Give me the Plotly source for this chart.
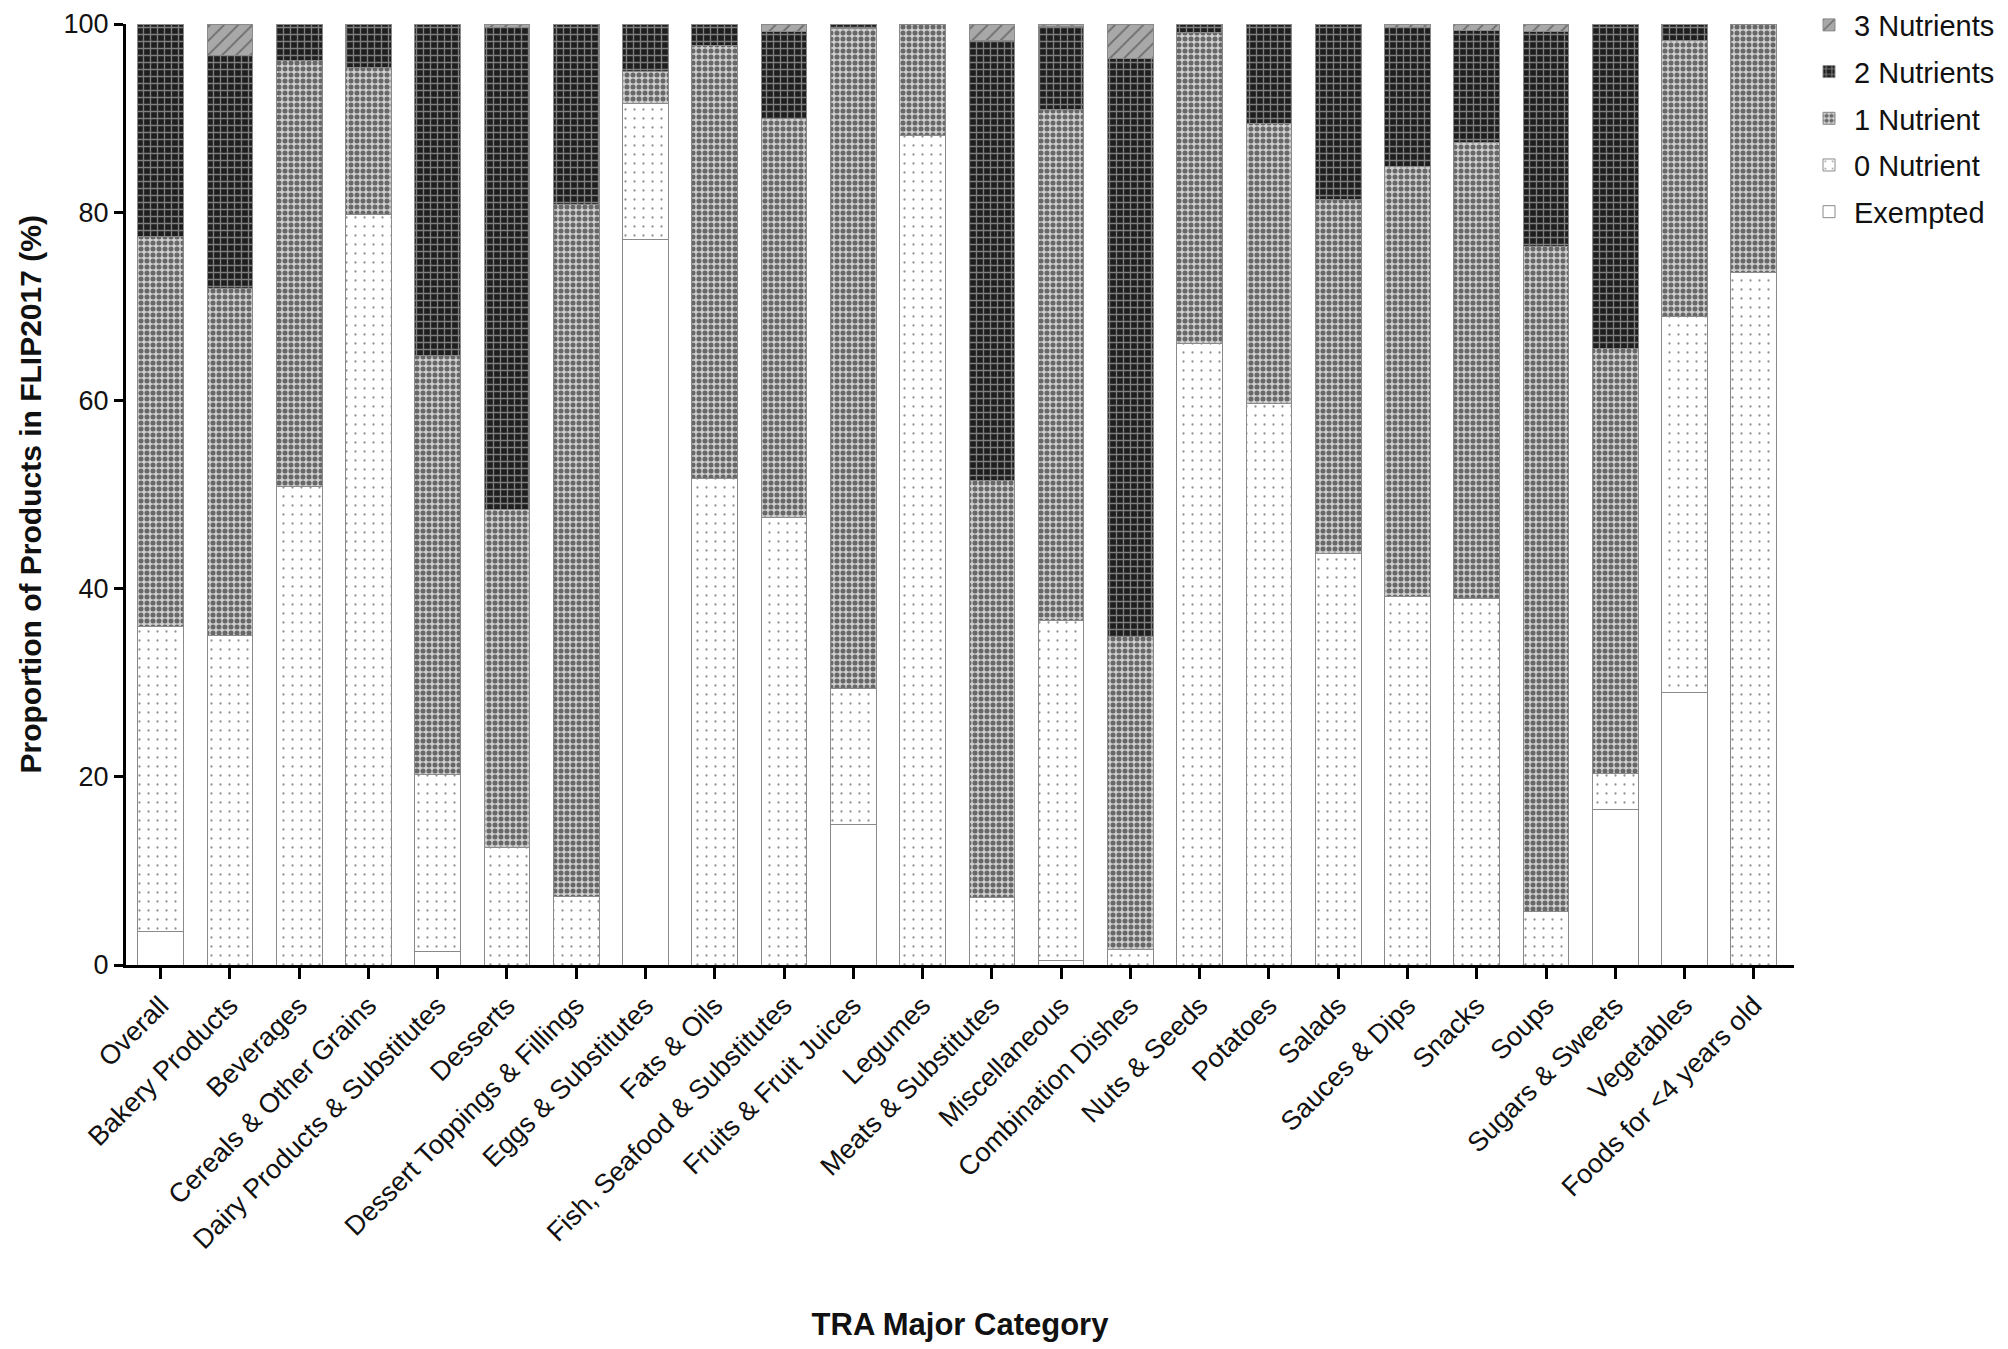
import plotly.graph_objects as go

categories = ["Overall", "Bakery Products", "Beverages", "Cereals & Other Grains",
              "Dairy Products & Substitutes", "Desserts", "Dessert Toppings & Fillings",
              "Eggs & Substitutes", "Fats & Oils", "Fish, Seafood & Substitutes",
              "Fruits & Fruit Juices", "Legumes", "Meats & Substitutes", "Miscellaneous",
              "Combination Dishes", "Nuts & Seeds", "Potatoes", "Salads", "Sauces & Dips",
              "Snacks", "Soups", "Sugars & Sweets", "Vegetables", "Foods for <4 years old"]

exempted = [3.6, 0, 0, 0, 1.4, 0, 0, 77.1, 0, 0, 14.9, 0, 0, 0.5, 0, 0, 0, 0, 0, 0, 0, 16.5, 29.0, 0]
nutr0 = [32.4, 35.0, 50.8, 79.8, 18.8, 12.5, 7.3, 14.5, 51.7, 47.6, 14.5, 88.2, 7.2, 36.1, 1.6,
         66.1, 59.7, 43.7, 39.2, 39.0, 5.7, 3.8, 39.9, 73.6]
nutr1 = [41.4, 36.9, 45.3, 15.6, 44.6, 35.9, 73.5, 3.3, 46.0, 42.4, 70.1, 11.8, 44.3, 54.3, 33.3,
         33.0, 29.7, 37.7, 45.7, 48.4, 70.7, 45.2, 29.4, 26.4]
nutr2 = [22.6, 24.8, 3.9, 4.6, 35.2, 51.2, 19.2, 5.1, 2.3, 9.2, 0.5, 0, 46.8, 8.8, 61.4,
         0.9, 10.6, 18.6, 14.7, 11.9, 22.8, 34.5, 1.7, 0]
nutr3 = [0, 3.3, 0, 0, 0, 0.4, 0, 0, 0, 0.8, 0, 0, 1.7, 0.3, 3.7,
         0, 0, 0, 0.4, 0.7, 0.8, 0, 0, 0]

y_title = "Proportion of Products in FLIP2017 (%)"
x_title = "TRA Major Category"

# (name, values, marker style, legend rank)
series = [
    ("Exempted", exempted, dict(color="white"), 5),
    ("0 Nutrient", nutr0, dict(color="white",
                               pattern=dict(shape=".", fgcolor="#222222", size=9, solidity=0.05,
                                            fillmode="overlay")), 4),
    ("1 Nutrient", nutr1, dict(color="#d0d0d0",
                               pattern=dict(shape=".", fgcolor="#000000", size=6, solidity=0.55,
                                            fillmode="overlay")), 3),
    ("2 Nutrients", nutr2, dict(color="#1e1e1e",
                                pattern=dict(shape="+", fgcolor="#e0e0e0", size=7, solidity=0.35,
                                             fillmode="overlay")), 2),
    ("3 Nutrients", nutr3, dict(color="#a8a8a8",
                                pattern=dict(shape="/", fgcolor="#303030", size=10, solidity=0.18,
                                             fillmode="overlay")), 1),
]

fig = go.Figure()
for name, vals, mk, rank in series:
    mk = dict(mk)
    mk["line"] = dict(color="#8a8a8a", width=1)
    fig.add_trace(go.Bar(x=categories, y=vals, name=name, marker=mk, width=0.66,
                         legendgroup=name, legendrank=rank))

font_family = "Liberation Sans, Arial, sans-serif"
fig.update_layout(
    barmode="stack",
    width=2008, height=1349,
    margin=dict(l=118, r=222, t=16, b=392, autoexpand=False),
    paper_bgcolor="white", plot_bgcolor="white",
    font=dict(family=font_family, size=27, color="#111111"),
    legend=dict(x=1.006, y=1.026, xanchor="left", yanchor="top",
                traceorder="grouped", tracegroupgap=6,
                font=dict(size=29, family=font_family), itemwidth=40,
                bgcolor="rgba(0,0,0,0)"),
    showlegend=True,
    annotations=[dict(text="<b>" + y_title + "</b>", xref="paper", yref="paper",
                      x=0, y=0.5, xshift=-96, xanchor="center", yanchor="middle",
                      textangle=-90, showarrow=False,
                      font=dict(size=30, family=font_family, color="#111111"))],
)
fig.update_xaxes(
    range=[-0.5, 23.58], showline=True, linecolor="black", linewidth=3,
    ticks="outside", ticklen=11, tickwidth=3, tickcolor="black",
    tickangle=-45, tickfont=dict(size=27), automargin=False,
    title=dict(text="<b>" + x_title + "</b>", font=dict(size=31), standoff=60),
    showgrid=False, zeroline=False,
)
fig.update_yaxes(
    range=[0, 100], tickvals=[0, 20, 40, 60, 80, 100], showline=True, linecolor="black",
    linewidth=3, ticks="outside", ticklen=9, tickwidth=3, tickcolor="black",
    tickfont=dict(size=27), automargin=False, ticklabeloverflow="allow",
    showgrid=False, zeroline=False,
)

fig.write_html("out.html")
